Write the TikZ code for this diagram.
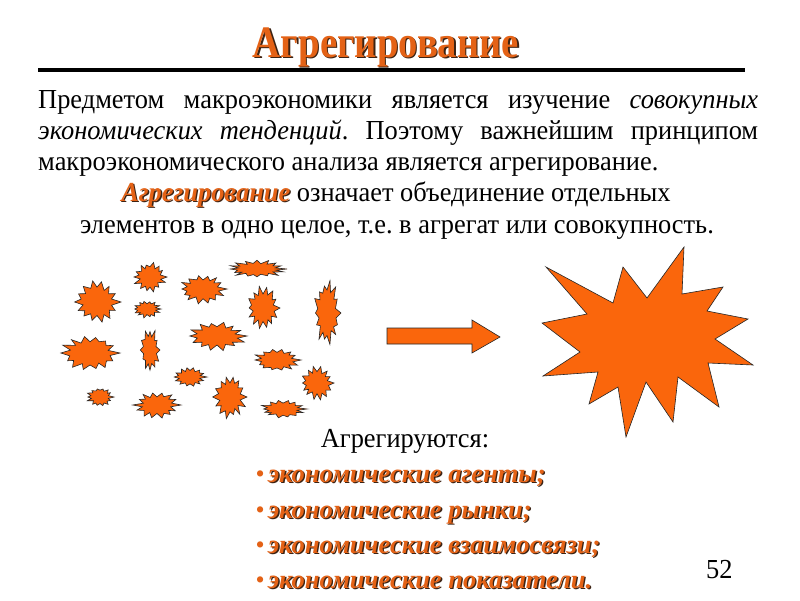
\documentclass[tikz,border=0pt]{standalone}
\usepackage{fontspec}
\setmainfont{Liberation Serif}
\newfontfamily\condf[FakeStretch=0.86]{Liberation Serif}
\newfontfamily\txtf[FakeStretch=0.96]{Liberation Serif}
\definecolor{org}{RGB}{250,102,12}
\definecolor{tord}{RGB}{228,98,22}
\definecolor{shd}{RGB}{60,35,20}
\newcommand\shtext[1]{\makebox[0pt][l]{\kern1.3pt\raisebox{-1.3pt}{\textcolor{shd}{#1}}}\textcolor{tord}{#1}}
\tikzset{
  burststyle/.style={fill=org, draw=black!85, line width=0.6pt, line join=miter},
  txt/.style={inner sep=0pt, font=\fontsize{27.5}{30}\selectfont\txtf},
  bul/.style={inner sep=0pt, font=\fontsize{26.5}{30}\selectfont\bfseries\itshape},
}
\newcommand\burst[6]{%
  \pgfmathsetseed{#6}%
  \pgfmathtruncatemacro\nm{#5-1}%
  \filldraw[burststyle] ({#1+#3},{#2})
    \foreach \k in {1,...,\nm} {
      -- ({#1+#3*(0.58+0.12*rnd)*cos((\k-0.5)*360/#5)},{#2+#4*(0.58+0.12*rnd)*sin((\k-0.5)*360/#5)})
      -- ({#1+#3*(0.8+0.22*rnd)*cos(\k*360/#5)},{#2+#4*(0.8+0.22*rnd)*sin(\k*360/#5)})
    }
    -- ({#1+#3*0.62*cos((#5-0.5)*360/#5)},{#2+#4*0.62*sin((#5-0.5)*360/#5)}) -- cycle;
}
\begin{document}
\frenchspacing
\begin{tikzpicture}[x=1pt,y=-1pt]
\useasboundingbox (0,0) rectangle (800,600);
\fill[white] (0,0) rectangle (800,600);

% title
\node[anchor=base, inner sep=0pt, font=\fontsize{45}{48}\selectfont\bfseries\condf] (title) at (386,57) {\shtext{Агрегирование}};
\coordinate (ulL) at (38,70);
\coordinate (ulR) at (745,70);
\draw[line width=4.5pt] (ulL) -- (ulR);

% paragraph
\node[txt, anchor=base west] (l1) at (38,108) {\makebox[720pt][s]{Предметом макроэкономики является изучение \textit{совокупных}}};
\node[txt, anchor=base west] (l2) at (38,139) {\makebox[720pt][s]{\textit{экономических тенденций}. Поэтому важнейшим принципом}};
\node[txt, anchor=base west] (l3) at (38,170) {макроэкономического анализа является агрегирование.};
\node[txt, anchor=base] (l4) at (396,201) {{\bfseries\itshape\shtext{Агрегирование}} означает объединение отдельных};
\node[txt, anchor=base] (l5) at (397,233) {элементов в одно целое, т.е. в агрегат или совокупность.};

% small bursts
\burst{97}{302}{24}{22}{14}{11}
\burst{150}{277}{17}{15}{14}{12}
\burst{147}{309}{14}{9}{14}{13}
\burst{203}{289}{24}{15}{14}{14}
\burst{257}{269}{30}{9}{16}{15}
\burst{263}{308}{17}{22}{14}{16}
\burst{327}{313}{14}{33}{14}{17}
\burst{90}{353}{30}{19}{14}{18}
\burst{150}{350}{10}{22}{12}{19}
\burst{217}{336}{30}{15}{14}{20}
\burst{277}{360}{24}{12}{14}{21}
\burst{190}{377}{17}{10}{14}{22}
\burst{317}{383}{17}{17}{14}{23}
\burst{100}{397}{14}{10}{14}{24}
\burst{157}{405}{24}{14}{14}{25}
\burst{230}{397}{17}{22}{14}{26}
\burst{283}{409}{24}{9}{14}{27}

% arrow
\filldraw[burststyle] (387,328) -- (472,328) -- (472,320) -- (500,337) -- (472,353) -- (472,344) -- (387,344) -- cycle;

% big star
\filldraw[burststyle] (546,267) -- (613,303) -- (623,267) -- (647,298) -- (684,247) -- (682,294)
  -- (723,287) -- (707,311) -- (748,319) -- (715,339) -- (753,365) -- (708,363)
  -- (719,407) -- (678,377) -- (673,422) -- (646,382) -- (626,437) -- (618,387)
  -- (589,404) -- (598,372) -- (543,376) -- (580,352) -- (542,323) -- (587,314) -- cycle;

% list
\node[txt, anchor=base] (agr) at (405,447) {Агрегируются:};
\node[bul, anchor=base west] (b1) at (268,482) {\shtext{экономические агенты;}};
\node[bul, anchor=base west] (b2) at (268,518) {\shtext{экономические рынки;}};
\node[bul, anchor=base west] (b3) at (268,553) {\shtext{экономические взаимосвязи;}};
\node[bul, anchor=base west] (b4) at (268,588) {\shtext{экономические показатели.}};
\foreach \n in {b1,b2,b3,b4}
  \node[inner sep=0pt, anchor=base east, text=tord, font=\fontsize{26}{28}\selectfont] at ([xshift=-3pt]\n.base west) {•};

\node[txt, anchor=base west] (num) at (706,578) {52};
\end{tikzpicture}
\end{document}
